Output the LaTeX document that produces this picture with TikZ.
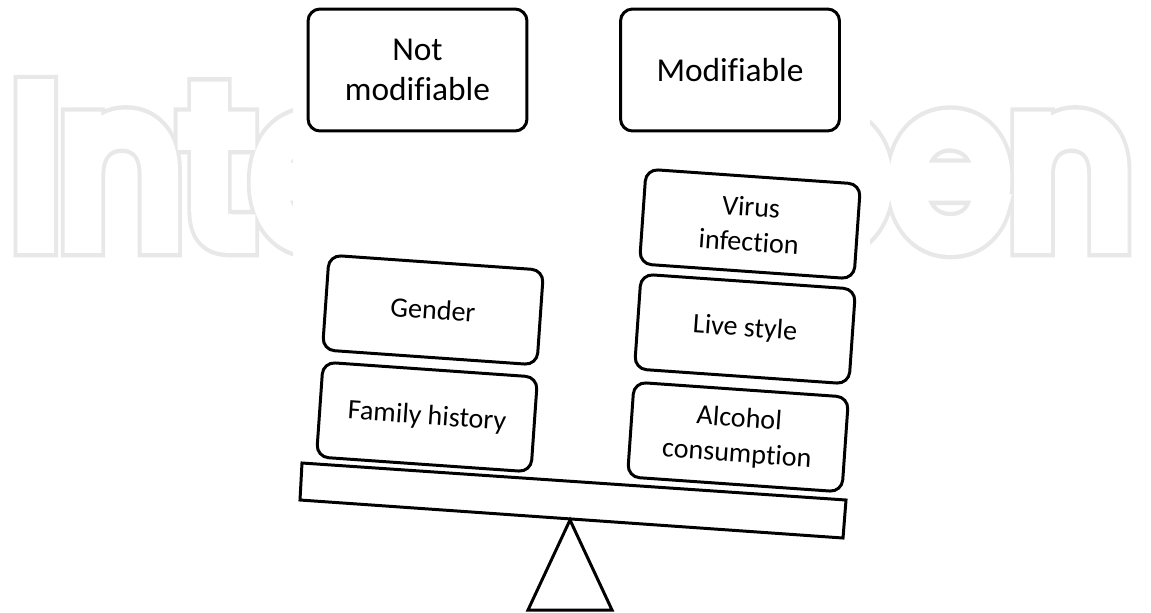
\documentclass[tikz,border=0pt]{standalone}
\usepackage{fontspec}
\setmainfont{Carlito}[Ligatures={NoCommon}]
\newfontfamily\wmfont{Poppins}[FakeBold=10]
\newfontfamily\wmring{Poppins}[FakeBold=14]
\usepackage{graphicx}
\definecolor{wmgray}{RGB}{232,232,232}
\newcommand{\wmtext}[1]{\scalebox{0.88}[1]{#1\fontsize{124}{124}\selectfont IntechOpen}}
\tikzset{
  labelbox/.style={draw=black, line width=1.7pt, rounded corners=0.24cm, fill=white,
    align=center, inner sep=0pt},
  topbox/.style={labelbox, minimum width=4.38cm, minimum height=2.44cm,
    font=\fontsize{19}{23}\selectfont},
  tiltbox/.style={labelbox, minimum width=4.3cm, minimum height=1.9cm, rotate=-4,
    font=\fontsize{16}{20}\selectfont},
  scalepart/.style={draw=black, line width=1.7pt, fill=white, line join=miter},
  wmark/.style={anchor=base west, inner sep=0pt}
}
\begin{document}
\begin{tikzpicture}[x=0.02cm, y=-0.02cm]
\useasboundingbox (0,0) rectangle (1151,612);
\fill[white] (0,0) rectangle (1151,612);
% watermark (outlined light text)
\node[wmark, text=wmgray] (wmo) at (12,242) {\wmtext{\wmring}};
\node[wmark, text=white] (wmi) at (12,242) {\wmtext{\wmfont}};
\fill[white] (293,0) rectangle (870,612);
% top boxes
\node[topbox] (notmod) at (417.5,70) {Not\\modifiable};
\node[topbox] (mod) at (730,70) {Modifiable};
% beam and pivot
\coordinate (bl1) at (302,463);
\coordinate (br1) at (846,500);
\coordinate (br2) at (843,538);
\coordinate (bl2) at (300,500);
\draw[scalepart] (bl1) -- (br1) -- (br2) -- (bl2) -- cycle;
\coordinate (apex) at (570,520);
\coordinate (baseL) at (528,610);
\coordinate (baseR) at (612,610);
\draw[scalepart] (apex) -- (baseR) -- (baseL) -- cycle;
% left stack
\node[tiltbox] (gender) at (433,310) {Gender};
\node[tiltbox] (family) at (427,417) {Family history};
% right stack
\node[tiltbox] (virus) at (750,224) {Virus\\infection};
\node[tiltbox] (live) at (745,329) {Live style};
\node[tiltbox] (alcohol) at (738,437) {Alcohol\\consumption};
\end{tikzpicture}
\end{document}
